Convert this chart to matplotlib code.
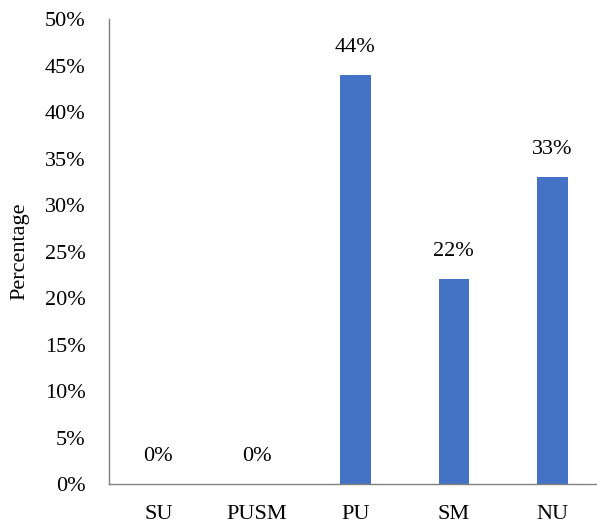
import matplotlib
matplotlib.use("Agg")
from matplotlib import pyplot as plt
from matplotlib.ticker import PercentFormatter

categories = ["SU", "PUSM", "PU", "SM", "NU"]
values = [0, 0, 44, 22, 33]

plt.rcParams['font.family'] = ['Liberation Serif', 'DejaVu Serif']

fig = plt.figure(figsize=(5.97, 5.24), dpi=100)
ax = fig.add_axes([0.1826, 0.0763, 0.825, 0.8874])

bars = ax.bar(range(len(categories)), values, width=0.31, color="#4472C4")
for i, v in enumerate(values):
	ax.annotate("%d%%" % v, (i, v), xytext=(0, 13), textcoords="offset points",
		ha="center", va="bottom", fontsize=16)

ax.set_xlim(-0.5, 4.5)
ax.set_ylim(0, 50)
ax.set_yticks(range(0, 51, 5))
ax.yaxis.set_major_formatter(PercentFormatter(decimals=0))
ax.set_xticks(range(len(categories)))
ax.set_xticklabels(categories)
ax.tick_params(axis="both", length=0, labelsize=16)
ax.tick_params(axis="x", pad=15)
ax.tick_params(axis="y", pad=17)
ax.set_ylabel("Percentage", fontsize=16, labelpad=11)

for side in ["top", "right"]:
	ax.spines[side].set_visible(False)
for side in ["left", "bottom"]:
	ax.spines[side].set_color("#808080")
	ax.spines[side].set_linewidth(1.0)

fig.savefig("out.png", dpi=100)
